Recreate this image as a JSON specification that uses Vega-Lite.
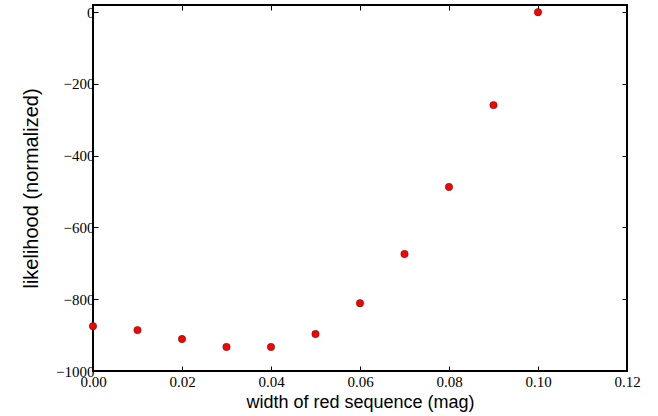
{
  "$schema": "https://vega.github.io/schema/vega-lite/v6.json",
  "width": 534,
  "height": 366,
  "autosize": {"type": "none"},
  "padding": {"left": 93, "top": 5, "right": 31, "bottom": 45},
  "background": "white",
  "config": {
    "view": {"stroke": "black", "strokeWidth": 2},
    "axis": {
      "grid": false,
      "domain": false,
      "tickColor": "black",
      "tickSize": -5,
      "tickWidth": 1,
      "labelFlush": false,
      "labelOverlap": false,
      "labelFont": "Liberation Serif",
      "labelFontSize": 15,
      "labelColor": "black",
      "titleFont": "Liberation Sans",
      "titleFontWeight": "normal",
      "titleColor": "black"
    }
  },
  "data": {
    "values": [
      {"width": 0.00, "likelihood": -875},
      {"width": 0.01, "likelihood": -886},
      {"width": 0.02, "likelihood": -911},
      {"width": 0.03, "likelihood": -933},
      {"width": 0.04, "likelihood": -933},
      {"width": 0.05, "likelihood": -897},
      {"width": 0.06, "likelihood": -811},
      {"width": 0.07, "likelihood": -674},
      {"width": 0.08, "likelihood": -487},
      {"width": 0.09, "likelihood": -259},
      {"width": 0.10, "likelihood": 0}
    ]
  },
  "layer": [
    {
      "mark": {"type": "point", "filled": true, "fill": "#ff0000", "stroke": "#222222", "strokeWidth": 0.5, "size": 55, "opacity": 1, "clip": false},
      "encoding": {
        "x": {
          "field": "width", "type": "quantitative",
          "scale": {"domain": [0, 0.12], "nice": false, "zero": false},
          "axis": {"values": [0, 0.02, 0.04, 0.06, 0.08, 0.1, 0.12], "format": ".2f", "labelPadding": 8, "title": "width of red sequence (mag)", "titleFontSize": 18, "titlePadding": 4}
        },
        "y": {
          "field": "likelihood", "type": "quantitative",
          "scale": {"domain": [-1000, 20], "nice": false, "zero": false},
          "axis": {"values": [-1000, -800, -600, -400, -200, 0], "format": "d", "labelPadding": 4, "title": "likelihood (normalized)", "titleFontSize": 20, "titlePadding": 14}
        }
      }
    },
    {
      "mark": {"type": "point", "opacity": 0},
      "encoding": {
        "x": {
          "field": "width", "type": "quantitative",
          "axis": {"orient": "top", "values": [0, 0.02, 0.04, 0.06, 0.08, 0.1, 0.12], "labels": false, "title": null}
        },
        "y": {
          "field": "likelihood", "type": "quantitative",
          "axis": {"orient": "right", "values": [-1000, -800, -600, -400, -200, 0], "labels": false, "title": null}
        }
      }
    }
  ],
  "resolve": {"axis": {"x": "independent", "y": "independent"}}
}
